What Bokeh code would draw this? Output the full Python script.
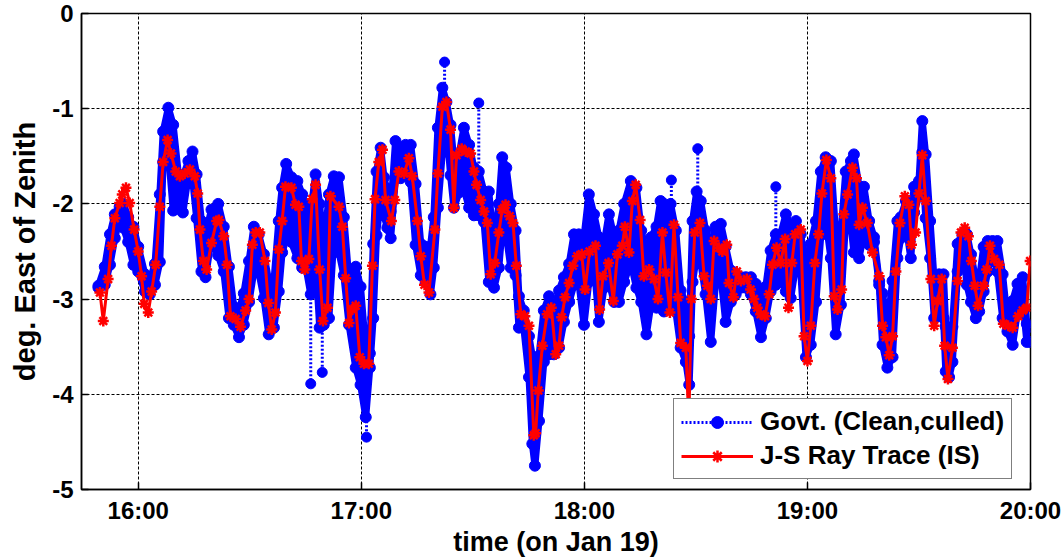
from bokeh.plotting import figure
from bokeh.models import Range1d, FixedTicker, Legend, LegendItem
from bokeh.embed import file_html
from bokeh.resources import INLINE

# time axis: minutes after 16:00 (Jan 19); values: degrees east of zenith
x_ticks = [0, 60, 120, 180, 240]
x_tick_labels = ["16:00", "17:00", "18:00", "19:00", "20:00"]
y_ticks = [0, -1, -2, -3, -4, -5]
y_tick_labels = ["0", "-1", "-2", "-3", "-4", "-5"]

# J-S Ray Trace (IS)
ray_t = [-10.3, -9.4, -8.1, -7.2, -6.3, -5.0, -4.3, -3.3, -2.3, -1.1,
         0.0, 0.9, 1.6, 2.7, 3.6, 4.7, 5.8, 6.7, 7.9, 8.8,
         10.1, 11.2, 12.5, 13.9, 15.2, 16.0, 16.6, 17.5, 18.4, 19.7,
         21.1, 21.7, 23.0, 23.9, 24.8, 26.2, 27.5, 28.9, 29.8, 30.7,
         31.6, 32.7, 34.1, 35.0, 35.9, 36.9, 37.8, 38.7, 39.6, 41.2,
         42.3, 43.2, 43.9, 44.8, 45.9, 46.8, 47.7, 48.8, 49.7, 50.9,
         51.7, 54.0, 54.9, 55.8, 56.7, 57.6, 58.5, 59.6, 60.7, 62.0,
         63.0, 63.7, 64.7, 65.7, 66.5, 68.1, 69.0, 70.1, 71.5, 72.8,
         73.7, 75.1, 76.0, 77.0, 78.2, 79.8, 80.6, 81.8, 82.9, 84.0,
         84.9, 85.6, 87.0, 88.1, 89.4, 90.3, 91.0, 92.1, 93.0, 93.9,
         94.8, 95.9, 97.0, 97.9, 98.8, 99.9, 100.8, 101.7, 102.9, 104.0,
         105.1, 106.4, 106.9, 107.6, 108.7, 110.0, 111.1, 112.3, 113.2, 113.9,
         114.8, 115.9, 116.9, 118.1, 119.3, 120.2, 121.4, 123.0, 124.1, 125.0,
         126.5, 127.8, 128.9, 130.2, 130.9, 132.0, 132.9, 133.8, 135.0, 136.0,
         137.4, 138.7, 139.8, 141.0, 141.9, 143.0, 144.1, 145.2, 145.9, 147.3,
         148.1, 148.8, 149.7, 151.1, 152.2, 153.1, 154.0, 154.9, 156.2, 157.1,
         158.3, 158.9, 160.1, 161.0, 162.1, 163.7, 164.7, 165.6, 166.5, 167.4,
         168.6, 169.7, 170.6, 171.7, 172.8, 174.0, 174.9, 175.8, 176.7, 178.2,
         179.1, 180.0, 180.9, 182.0, 183.0, 183.9, 185.1, 186.3, 187.2, 188.1,
         189.2, 189.8, 190.8, 192.1, 193.2, 193.9, 194.8, 196.1, 197.5, 199.3,
         200.2, 201.1, 202.0, 202.9, 203.8, 204.9, 206.2, 207.3, 208.0, 209.1,
         210.0, 210.9, 211.8, 213.2, 214.1, 215.0, 216.1, 216.9, 217.8, 219.0,
         220.4, 221.3, 222.3, 223.3, 224.1, 225.0, 225.9, 227.4, 228.2, 229.1,
         230.2, 231.6, 232.7, 234.0, 235.2, 236.7, 237.9, 239.0, 239.9]
ray_v = [-2.93, -3.23, -2.79, -2.44, -2.15, -1.99, -1.90, -1.83, -1.99, -2.27,
         -2.50, -2.76, -3.05, -3.14, -2.92, -2.64, -2.03, -1.56, -1.33, -1.47,
         -1.66, -1.71, -1.68, -1.64, -1.71, -1.89, -2.27, -2.60, -2.69, -2.41,
         -2.18, -2.17, -2.34, -2.64, -3.18, -3.21, -3.29, -3.12, -3.00, -2.43,
         -2.30, -2.30, -2.60, -3.04, -3.32, -3.14, -2.48, -2.18, -1.82, -1.83,
         -2.01, -2.03, -2.60, -2.69, -2.58, -1.95, -1.80, -2.69, -3.23, -3.09,
         -1.92, -2.03, -2.24, -2.78, -3.25, -3.11, -3.07, -3.61, -3.68, -3.68,
         -2.65, -1.95, -1.56, -1.43, -1.96, -2.18, -1.96, -1.66, -1.68, -1.52,
         -1.71, -2.18, -2.55, -2.85, -2.93, -2.27, -1.68, -0.98, -0.93, -1.22,
         -2.04, -1.49, -1.42, -1.45, -1.47, -1.66, -1.80, -1.96, -2.08, -2.20,
         -2.74, -2.62, -2.30, -2.06, -2.01, -2.13, -2.20, -2.65, -3.16, -3.18,
         -3.28, -4.43, -4.41, -3.96, -3.49, -3.16, -3.09, -3.58, -3.49, -3.19,
         -2.98, -2.83, -2.65, -2.55, -2.53, -2.90, -2.50, -2.44, -3.11, -2.76,
         -2.62, -3.02, -2.53, -2.44, -2.24, -2.51, -1.97, -1.80, -2.17, -2.76,
         -2.69, -2.79, -3.00, -2.30, -2.72, -3.14, -2.22, -2.98, -3.46, -3.51,
         -4.30, -3.00, -2.30, -2.20, -2.76, -2.86, -3.00, -2.39, -2.46, -2.50,
         -2.43, -2.83, -2.98, -2.71, -2.81, -2.79, -2.90, -3.00, -3.09, -3.16,
         -3.18, -2.95, -2.64, -2.46, -2.62, -2.37, -3.09, -2.62, -2.32, -2.27,
         -3.39, -3.65, -3.28, -2.62, -2.32, -1.89, -1.54, -1.73, -2.97, -3.11,
         -2.90, -2.11, -1.90, -1.62, -1.73, -2.22, -2.04, -2.20, -2.51, -2.76,
         -3.28, -3.40, -3.59, -3.39, -2.71, -2.20, -1.92, -2.01, -2.43, -2.30,
         -1.89, -1.49, -1.97, -2.79, -3.28, -3.02, -2.79, -3.49, -3.84, -3.51,
         -2.81, -2.30, -2.25, -2.34, -2.60, -2.86, -3.07, -2.86, -2.69, -2.44,
         -2.58, -2.64, -3.26, -3.28, -3.30, -3.18, -3.12, -3.09, -2.60]

# Govt. (Clean, culled): upper / lower extent of the dense point cloud
govt_t = [-10.7, -9.0, -7.6, -6.3, -5.0, -4.0, -2.7, -1.3, 0.0, 1.8,
          3.1, 4.5, 5.8, 6.7, 8.1, 9.4, 10.8, 12.0, 13.5, 14.6,
          15.7, 17.0, 18.1, 19.7, 21.5, 23.0, 24.4, 25.7, 27.1, 28.4,
          29.8, 31.1, 32.4, 33.8, 35.1, 36.5, 37.8, 38.7, 39.8, 41.2,
          42.8, 44.1, 45.0, 46.4, 47.7, 48.8, 49.9, 51.3, 52.6, 54.0,
          55.3, 56.7, 58.5, 59.8, 61.2, 62.3, 63.2, 64.1, 65.2, 66.1,
          67.0, 67.9, 69.2, 70.6, 71.9, 73.3, 74.6, 76.0, 77.3, 78.6,
          79.5, 80.6, 81.8, 82.9, 84.0, 84.9, 86.3, 87.6, 89.0, 90.3,
          91.6, 93.0, 94.3, 95.7, 97.0, 97.9, 99.0, 100.2, 101.5, 102.4,
          103.7, 105.1, 106.0, 106.7, 107.8, 109.1, 110.5, 111.8, 113.2, 114.5,
          115.9, 117.2, 118.5, 119.9, 121.2, 122.6, 123.9, 125.3, 126.6, 128.0,
          129.3, 130.7, 132.5, 134.0, 135.3, 136.7, 138.0, 139.4, 140.5, 141.4,
          143.2, 144.6, 145.9, 147.3, 148.2, 149.1, 150.2, 151.3, 152.6, 154.0,
          155.3, 156.7, 158.0, 159.4, 160.7, 162.1, 163.4, 164.8, 166.1, 167.5,
          168.8, 170.1, 171.5, 172.8, 174.2, 175.5, 176.9, 178.2, 179.6, 180.9,
          182.3, 183.6, 184.9, 186.3, 187.6, 189.0, 190.3, 191.7, 192.5, 193.9,
          195.2, 196.6, 197.9, 199.3, 200.2, 201.5, 202.9, 204.2, 205.1, 206.5,
          207.8, 208.7, 210.0, 210.9, 211.8, 213.0, 214.1, 215.4, 216.6, 217.2,
          218.1, 219.0, 220.4, 221.7, 222.9, 224.0, 225.3, 226.2, 227.4, 228.5,
          229.8, 231.1, 232.5, 233.8, 235.2, 236.5, 237.9, 239.0, 239.9]
govt_hi = [-2.86, -2.66, -2.32, -2.11, -2.03, -2.00, -2.14, -2.24, -2.45, -2.74,
           -2.81, -2.63, -1.90, -1.24, -0.99, -1.17, -1.69, -1.72, -1.55, -1.45,
           -1.69, -2.18, -2.32, -2.06, -2.00, -2.24, -2.66, -3.08, -3.12, -2.94,
           -2.60, -2.24, -2.32, -2.53, -2.81, -2.81, -2.18, -1.83, -1.58, -1.72,
           -1.76, -1.90, -2.00, -2.08, -1.69, -2.00, -2.53, -1.90, -1.71, -1.72,
           -2.14, -2.81, -2.66, -2.87, -3.54, -3.57, -2.42, -1.66, -1.41, -1.72,
           -1.87, -2.08, -1.34, -1.41, -1.38, -1.38, -1.79, -2.42, -2.45, -2.45,
           -2.14, -1.20, -0.78, -0.93, -1.17, -1.55, -1.48, -1.20, -1.38, -1.62,
           -1.66, -1.87, -1.87, -2.45, -2.00, -1.51, -1.62, -2.00, -2.28, -2.97,
           -3.12, -3.39, -3.60, -3.89, -3.60, -3.12, -2.97, -3.15, -2.91, -2.77,
           -2.63, -2.32, -2.32, -2.35, -1.90, -2.11, -2.35, -2.42, -2.11, -2.35,
           -2.28, -2.00, -1.76, -1.83, -2.28, -2.53, -2.35, -2.24, -1.97, -2.00,
           -2.00, -2.28, -2.91, -3.05, -3.39, -2.18, -1.87, -1.97, -2.28, -2.45,
           -2.24, -2.21, -2.45, -2.70, -2.74, -2.77, -2.77, -2.77, -2.84, -2.91,
           -2.87, -2.49, -2.32, -2.32, -2.11, -2.24, -2.18, -2.32, -2.66, -2.42,
           -2.18, -1.66, -1.51, -1.55, -2.32, -2.32, -1.66, -1.55, -1.48, -1.82,
           -1.82, -2.18, -2.35, -2.81, -2.94, -3.29, -2.81, -2.18, -2.14, -1.97,
           -2.14, -1.82, -1.76, -1.13, -1.48, -2.18, -2.81, -2.74, -2.74, -3.29,
           -3.50, -3.29, -2.42, -2.32, -2.32, -2.53, -2.81, -2.81, -2.45, -2.39,
           -2.39, -2.39, -2.74, -3.23, -3.02, -2.84, -2.77, -3.26, -3.29]
govt_lo = [-2.88, -2.85, -2.64, -2.36, -2.15, -2.25, -2.40, -2.64, -2.71, -2.92,
           -2.95, -2.85, -2.61, -1.56, -1.46, -2.07, -2.05, -2.09, -1.70, -1.73,
           -2.15, -2.71, -2.77, -2.36, -2.54, -2.71, -3.20, -3.27, -3.40, -3.27,
           -3.03, -2.71, -2.71, -2.99, -3.37, -3.30, -2.92, -2.51, -2.36, -2.40,
           -2.57, -2.67, -2.64, -2.95, -2.57, -3.30, -3.27, -3.20, -2.36, -2.51,
           -2.75, -3.27, -3.72, -3.90, -4.24, -3.72, -3.20, -2.33, -1.94, -2.12,
           -2.25, -2.36, -1.73, -1.73, -1.70, -1.77, -2.43, -2.75, -2.82, -2.95,
           -2.67, -2.04, -1.46, -1.15, -1.70, -2.04, -1.88, -1.84, -2.04, -2.12,
           -2.12, -2.19, -2.82, -2.88, -2.67, -2.25, -2.33, -2.67, -2.75, -3.30,
           -3.30, -3.82, -4.52, -4.75, -4.28, -3.66, -3.58, -3.58, -3.51, -3.24,
           -3.03, -2.85, -2.82, -3.27, -2.82, -2.61, -3.24, -2.88, -2.82, -3.03,
           -3.03, -2.82, -2.61, -2.88, -3.03, -3.37, -3.03, -3.09, -2.95, -3.13,
           -2.95, -3.13, -3.51, -3.66, -3.90, -2.82, -2.54, -2.61, -2.95, -3.45,
           -2.82, -2.75, -3.24, -3.03, -2.95, -2.88, -2.88, -2.95, -3.13, -3.40,
           -3.20, -2.92, -2.85, -2.78, -2.92, -2.99, -2.64, -2.71, -3.61, -3.48,
           -3.03, -2.33, -2.15, -2.57, -3.37, -3.06, -2.15, -2.22, -2.51, -2.57,
           -2.29, -2.43, -2.40, -2.85, -3.48, -3.72, -3.61, -2.57, -2.36, -2.22,
           -2.57, -2.09, -1.91, -1.46, -2.15, -2.57, -3.20, -3.06, -3.20, -3.76,
           -3.82, -3.66, -2.71, -2.36, -2.85, -3.03, -3.20, -3.13, -2.92, -2.71,
           -2.51, -2.71, -3.20, -3.34, -3.48, -3.13, -2.99, -3.45, -3.45]

# isolated Govt. outliers joined to the cloud by the dotted line
spike_t = [46.4, 49.5, 61.4, 82.4, 91.6, 143.4, 150.5, 171.5]
spike_from = [-2.95, -3.27, -4.24, -0.78, -1.66, -2.00, -1.87, -2.32]
spike_to = [-3.89, -3.77, -4.45, -0.51, -0.94, -1.75, -1.42, -1.82]

FONT = "Liberation Sans"
BLUE = "#0000ff"
RED = "#ff0000"

p = figure(width=1061, height=559, x_range=Range1d(-15.26, 240.0), y_range=Range1d(-5, 0),
           output_backend="svg", toolbar_location=None,
           min_border_left=81, min_border_right=31, min_border_top=13, min_border_bottom=68)
p.background_fill_color = "white"
p.border_fill_color = "white"
p.outline_line_color = "black"
p.outline_line_width = 1.5
p.outline_line_alpha = 1.0

# Govt. cloud
p.varea(x=govt_t, y1=govt_lo, y2=govt_hi, fill_color=BLUE, fill_alpha=1.0)
p.line(govt_t, govt_hi, line_color=BLUE, line_width=7, line_join="round")
p.line(govt_t, govt_lo, line_color=BLUE, line_width=7, line_join="round")
spk = p.segment(x0=spike_t, y0=spike_from, x1=spike_t, y1=spike_to,
                line_color=BLUE, line_width=3, line_dash="2 2")
p.scatter(spike_t, spike_to, size=10, color=BLUE)
hi_r = p.scatter(govt_t, govt_hi, size=11, color=BLUE)
p.scatter(govt_t, govt_lo, size=11, color=BLUE)

# Ray trace
ray_line = p.line(ray_t, ray_v, line_color=RED, line_width=3)
ray_mk = p.scatter(ray_t, ray_v, marker="asterisk", size=11, line_color=RED, line_width=2.5)

p.xaxis.ticker = FixedTicker(ticks=x_ticks)
p.xaxis.major_label_overrides = dict(zip(x_ticks, x_tick_labels))
p.yaxis.ticker = FixedTicker(ticks=y_ticks)
p.yaxis.major_label_overrides = dict(zip(y_ticks, y_tick_labels))
p.xgrid.ticker = FixedTicker(ticks=x_ticks)
p.ygrid.ticker = FixedTicker(ticks=y_ticks)

for ax in (p.xaxis[0], p.yaxis[0]):
    ax.axis_line_width = 1.5
    ax.axis_line_color = "black"
    ax.major_tick_in = 7
    ax.major_tick_out = 0
    ax.major_tick_line_width = 1.5
    ax.major_tick_line_color = "black"
    ax.minor_tick_line_color = None
    ax.major_label_text_font = FONT
    ax.major_label_text_font_style = "bold"
    ax.major_label_text_font_size = "24px"
    ax.major_label_text_color = "black"
    ax.axis_label_text_font = FONT
    ax.axis_label_text_font_style = "bold"
    ax.axis_label_text_color = "black"

p.xaxis.axis_label_text_font_size = "27px"
p.yaxis.axis_label_text_font_size = "29px"
p.xaxis.major_label_standoff = 7
p.yaxis.major_label_standoff = 8
p.xaxis.axis_label = "time (on Jan 19)"
p.yaxis.axis_label = "deg. East of Zenith"
p.xaxis.axis_label_standoff = 0
p.yaxis.axis_label_standoff = 8

for g in (p.xgrid[0], p.ygrid[0]):
    g.grid_line_color = "black"
    g.grid_line_alpha = 1.0
    g.grid_line_width = 1
    g.grid_line_dash = "3 2"

legend = Legend(items=[LegendItem(label="Govt. (Clean,culled)", renderers=[spk, hi_r]),
                       LegendItem(label="J-S Ray Trace (IS)", renderers=[ray_line, ray_mk])],
                location=(592, 10))
legend.border_line_color = "black"
legend.border_line_width = 1.5
legend.background_fill_color = "white"
legend.background_fill_alpha = 1.0
legend.label_text_font = FONT
legend.label_text_font_style = "bold"
legend.label_text_font_size = "26px"
legend.label_text_color = "black"
legend.glyph_width = 72
legend.glyph_height = 30
legend.label_height = 30
legend.label_standoff = 7
legend.padding = 7
legend.spacing = 3
legend.margin = 0
p.add_layout(legend)

open("out.html", "w").write(file_html(p, INLINE))
